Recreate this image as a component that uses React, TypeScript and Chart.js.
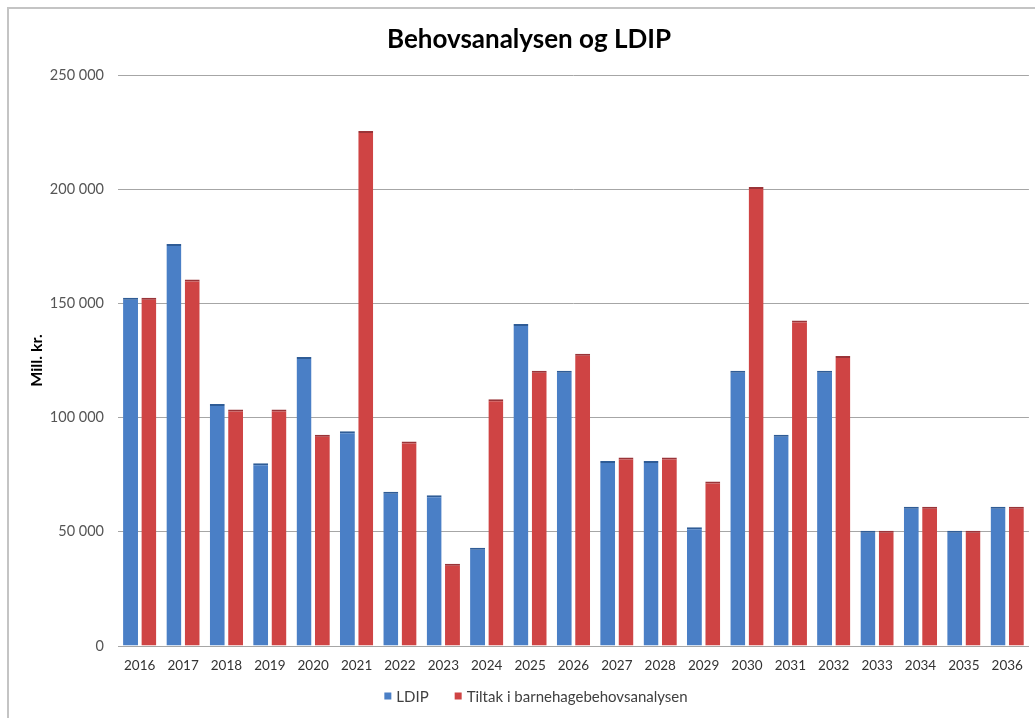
import React, { useEffect, useRef } from "react";
import { Chart, registerables } from "chart.js";

Chart.register(...registerables);

const categories = ["2016", "2017", "2018", "2019", "2020", "2021", "2022", "2023", "2024", "2025", "2026", "2027", "2028", "2029", "2030", "2031", "2032", "2033", "2034", "2035", "2036"];
const ldipValues = [152500, 176000, 106000, 80000, 126500, 94000, 67500, 66000, 43000, 141000, 120500, 81000, 81000, 52000, 120500, 92500, 120500, 50500, 61000, 50500, 61000];
const tiltakValues = [152500, 160500, 103500, 103500, 92500, 225500, 89500, 36000, 108000, 120500, 128000, 82500, 82500, 72000, 201000, 142500, 127000, 50500, 61000, 50500, 61000];
const seriesNames = ["LDIP", "Tiltak i barnehagebehovsanalysen"];
const yTicks = [0, 50000, 100000, 150000, 200000, 250000];
const titleText = "Behovsanalysen og LDIP";
const yTitle = "Mill. kr.";

const fmt = (v: number) => String(v).replace(/\B(?=(\d{3})+(?!\d))/g, " ");

const headerAndLegend = {
  id: "headerAndLegend",
  afterDraw(chart: any) {
    const ctx = chart.ctx;
    ctx.save();
    // title
    ctx.font = "bold 26px Lato";
    ctx.fillStyle = "#000";
    ctx.textAlign = "center";
    ctx.textBaseline = "alphabetic";
    ctx.fillText(titleText, 529, 48);

    // legend
    const box = 7;
    const gap = 5;
    const itemGap = 26;
    ctx.font = "15px Lato";
    const items = chart.data.datasets.map((d: any) => ({
      label: d.label,
      color: d.backgroundColor,
      w: box + gap + ctx.measureText(d.label).width,
    }));
    const total = items.reduce((s: number, it: any) => s + it.w, 0) + itemGap * (items.length - 1);
    let x = 536 - total / 2;
    const y = 696;
    ctx.textBaseline = "middle";
    ctx.textAlign = "left";
    for (const it of items) {
      ctx.fillStyle = it.color;
      ctx.fillRect(x, y - box / 2, box, box);
      ctx.fillStyle = "#404040";
      ctx.fillText(it.label, x + box + gap, y + 1);
      x += it.w + itemGap;
    }
    ctx.restore();
  },
};

export default function App() {
  const ref = useRef<HTMLCanvasElement | null>(null);
  useEffect(() => {
    if (!ref.current) return;
    const chart = new Chart(ref.current, {
      type: "bar",
      data: {
        labels: categories,
        datasets: [
          {
            label: seriesNames[0],
            data: ldipValues,
            backgroundColor: "#4a7fc6",
            borderColor: "#2f5c96",
            borderWidth: { top: 2, left: 0, right: 0, bottom: 0 },
            borderSkipped: false,
            categoryPercentage: 0.845,
            barPercentage: 0.815,
          },
          {
            label: seriesNames[1],
            data: tiltakValues,
            backgroundColor: "#cf4444",
            borderColor: "#9a3438",
            borderWidth: { top: 2, left: 0, right: 0, bottom: 0 },
            borderSkipped: false,
            categoryPercentage: 0.845,
            barPercentage: 0.815,
          },
        ],
      },
      options: {
        animation: false,
        responsive: false,
        layout: { padding: { left: 0, right: 5, top: 75, bottom: 36 } },
        plugins: {
          title: { display: false },
          legend: { display: false },
          tooltip: { enabled: false },
        },
        scales: {
          x: {
            grid: { display: false, drawTicks: false },
            border: { display: true, color: "#a6a6a6", width: 1 },
            ticks: {
              color: "#333",
              padding: 12,
              font: { family: "Lato", size: 13.5 },
              maxRotation: 0,
              autoSkip: false,
            },
            afterFit: (s: any) => {
              s.height = 36;
            },
          },
          y: {
            min: 0,
            max: 250000,
            grid: { color: "#a6a6a6", lineWidth: 1, drawTicks: false },
            border: { display: false },
            afterBuildTicks: (s: any) => {
              s.ticks = yTicks.map((v) => ({ value: v }));
            },
            ticks: {
              color: "#555",
              padding: 14,
              font: { family: "Lato", size: 14.5 },
              callback: (v: any) => fmt(Number(v)),
            },
            title: {
              display: true,
              text: yTitle,
              color: "#000",
              font: { family: "Lato", size: 16, weight: "bold" },
              padding: { top: 27, bottom: 0 },
            },
            afterFit: (s: any) => {
              s.width = 118;
            },
          },
        },
      },
      plugins: [headerAndLegend],
    });
    return () => chart.destroy();
  }, []);
  return (
    <div style={{ position: "absolute", left: 0, top: 0, width: 1035, height: 718, background: "#fff", overflow: "hidden" }}>
      <canvas ref={ref} width={1035} height={718} style={{ display: "block" }} />
      <div
        style={{
          position: "absolute",
          left: 7,
          top: 7,
          width: 1040,
          height: 720,
          borderTop: "2px solid #c4c4c4",
          borderLeft: "2px solid #c4c4c4",
          pointerEvents: "none",
        }}
      />
    </div>
  );
}
